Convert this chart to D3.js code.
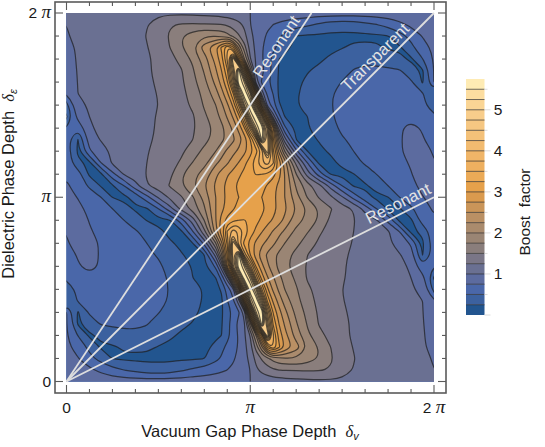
<!DOCTYPE html>
<html>
<head>
<meta charset="utf-8">
<script src="https://cdn.jsdelivr.net/npm/d3@7"></script>
<style>
  body { margin: 0; background: #fff; }
  text { font-family: "Liberation Sans", Arial, sans-serif; fill: #1a1a1a; }
</style>
</head>
<body>
<script>
// column positions of the read grid, in units of pi/32 (denser around the ridge)
const phaseColumns = [0, 2, 4, 6, 8, 10, 12, 14, 16, 18, 20, 22, 24, 26, 27, 28, 29, 30, 31, 32,
                      33, 34, 35, 36, 37, 38, 40, 42, 44, 46, 48, 50, 52, 54, 56, 58, 60, 62, 64];

// boost factor, bottom row to the middle row, rows are pi/16 apart.
// the upper half is the lower half turned by 180 degrees around (pi, pi)
const boostRows = [
  [.96,.95,.93,.92,.9,.89,.88,.88,.88,.88,.88,.89,.9,.91,.92,.93,.95,.96,.98,1.0,1.03,1.06,1.09,1.11,1.13,1.15,1.17,1.19,1.2,1.2,1.2,1.19,1.17,1.15,1.13,1.1,1.07,1.04,1.02],
  [.88,.85,.8,.69,.58,.5,.43,.36,.35,.38,.46,.55,.6,.67,.71,.75,.8,.87,.94,1.0,1.2,1.32,1.4,1.46,1.5,1.51,1.52,1.53,1.52,1.48,1.36,1.24,1.19,1.16,1.13,1.1,1.07,1.04,1.0],
  [.8,.76,.58,.4,.24,.21,.2,.2,.2,.2,.21,.22,.24,.43,.53,.62,.71,.82,.92,1.08,1.32,1.53,1.7,1.85,1.93,1.97,2.0,1.88,1.74,1.53,1.38,1.26,1.19,1.16,1.13,1.1,1.07,1.03,.99],
  [.79,.68,.425,.22,.22,.28,.3,.29,.24,.21,.2,.2,.2,.3,.43,.56,.67,.77,.93,1.15,1.6,2.2,3.1,3.5,3.05,2.75,2.37,2.0,1.73,1.5,1.35,1.24,1.18,1.15,1.12,1.09,1.06,1.02,.95],
  [.78,.49,.21,.3,.38,.43,.45,.44,.36,.28,.22,.2,.2,.21,.25,.42,.6,.78,.97,1.27,2.0,3.2,5.0,3.55,2.9,2.6,2.12,1.8,1.58,1.42,1.3,1.22,1.17,1.14,1.11,1.08,1.05,1.03,.88],
  [.76,.21,.38,.52,.54,.55,.54,.51,.42,.34,.29,.24,.21,.2,.23,.42,.65,.82,1.0,1.9,3.85,5.7,4.4,3.2,2.75,2.47,2.03,1.72,1.48,1.38,1.3,1.22,1.17,1.14,1.11,1.07,1.03,1.02,.84],
  [.76,.22,.53,.6,.63,.65,.65,.6,.51,.42,.34,.28,.22,.2,.22,.37,.55,.72,1.1,3.3,5.2,5.8,4.0,2.98,2.6,2.33,1.93,1.67,1.46,1.36,1.28,1.21,1.16,1.13,1.1,1.06,1.03,1.01,.8],
  [.3,.52,.58,.66,.7,.72,.71,.67,.6,.47,.38,.31,.23,.2,.21,.49,.7,1.15,3.0,5.0,5.8,4.6,3.2,2.7,2.4,2.15,1.83,1.6,1.43,1.33,1.26,1.2,1.15,1.12,1.08,1.06,1.03,1.0,.76],
  [.35,.56,.68,.72,.73,.74,.73,.7,.62,.48,.39,.31,.24,.2,.27,.6,.9,2.25,4.2,5.8,5.0,3.55,2.8,2.45,2.2,2.0,1.78,1.55,1.41,1.33,1.25,1.19,1.14,1.1,1.06,1.05,1.03,.93,.42],
  [.55,.7,.72,.72,.73,.72,.71,.67,.58,.47,.33,.25,.21,.25,.58,1.13,2.65,4.4,5.8,5.2,3.7,2.9,2.53,2.28,2.07,1.92,1.7,1.47,1.39,1.33,1.27,1.2,1.15,1.11,1.08,1.06,1.0,.85,.22],
  [.66,.74,.78,.74,.72,.7,.66,.6,.54,.43,.32,.24,.2,.55,1.18,2.75,4.45,5.8,5.2,3.9,3.0,2.58,2.3,2.1,1.93,1.82,1.62,1.47,1.39,1.34,1.27,1.21,1.16,1.12,1.09,1.05,.97,.55,.5],
  [.7,.76,.85,.72,.68,.64,.59,.54,.48,.34,.26,.21,.25,1.1,1.95,3.08,4.65,5.6,3.62,3.0,2.6,2.37,2.2,2.05,1.95,1.85,1.67,1.5,1.42,1.35,1.28,1.22,1.17,1.12,1.08,1.02,.86,.24,.6],
  [.72,.87,.86,.72,.68,.64,.58,.5,.37,.27,.22,.25,.82,1.73,2.43,3.3,4.7,3.55,3.16,2.88,2.69,2.55,2.43,2.3,2.14,2.0,1.82,1.62,1.46,1.38,1.3,1.24,1.18,1.13,1.05,.88,.72,.2,.64],
  [.76,.85,.77,.7,.66,.6,.53,.42,.29,.21,.2,.73,1.43,2.4,2.9,3.53,3.9,3.72,3.42,3.15,2.93,2.76,2.62,2.47,2.33,2.2,1.93,1.76,1.53,1.42,1.34,1.25,1.18,1.12,1.04,.75,.2,.3,.68],
  [.84,.85,.74,.66,.58,.5,.36,.24,.2,.23,.62,1.12,1.75,2.5,2.85,3.08,3.2,3.25,3.26,3.22,3.08,2.95,2.83,2.72,2.6,2.45,2.1,1.93,1.72,1.45,1.35,1.27,1.1,1.02,.68,.2,.2,.62,.72],
  [.82,.8,.7,.62,.5,.33,.22,.22,.5,.9,1.33,1.6,1.97,2.5,2.68,2.85,2.97,3.08,3.12,3.14,3.12,3.07,2.95,2.85,2.68,2.55,2.25,1.97,1.73,1.52,1.36,1.23,.92,.5,.22,.23,.45,.66,.78],
  [.82,.74,.66,.5,.24,.2,.32,.67,1.03,1.3,1.47,1.72,2.08,2.5,2.65,2.8,2.9,3.0,3.03,3.05,3.03,3.0,2.9,2.8,2.65,2.5,2.08,1.72,1.47,1.3,1.03,.67,.32,.2,.24,.5,.66,.74,.82]
];

// contour levels and the band colour above each one (first colour is below .25)
const levels = d3.range(1, 23).map(d => d * 0.25);
const bandColors = ["#22558f", "#3c619f", "#4a67a9", "#5c6b9f", "#6a7092", "#7a7687", "#8a7e7c", "#9a8574",
                    "#aa8b6d", "#ba9064", "#ca9559", "#da9a4e", "#e6a14b", "#ebaa57", "#eeb060", "#f0b568",
                    "#f2bb70", "#f4c179", "#f6c782", "#f8cd8b", "#fad595", "#fcdda0", "#feebb4"];

const resonanceSlopes = [1.5, 1, 0.5];
const lineLabels = ["Resonant", "Transparent", "Resonant"];
const labelPhases = [1.19, 1.72, 1.83];
const phaseTicks = [0, 1, 2];
const barTicks = [1, 2, 3, 4, 5];

const plot = {left: 66.5, right: 434, top: 13, bottom: 381.5};
const frame = {left: 55, right: 446, top: 2, bottom: 393};
const bar = {left: 466, right: 484.5, top: 79, bottom: 315, max: 5.75};

window.onload = function() {
    main();
};


/**
 * Main function, draws the map, the frame and the colour bar.
 */
function main() {
    let svg = d3.select("body")
                .append("svg")
                .attr("width", 545)
                .attr("height", 447);

    let x = d3.scaleLinear().domain([0, 2 * Math.PI]).range([plot.left, plot.right]);
    let y = d3.scaleLinear().domain([0, 2 * Math.PI]).range([plot.bottom, plot.top]);

    makeMap(svg, x, y);
    makeLines(svg, x, y);
    makeFrame(svg, x, y);
    makeBar(svg);
}


/**
 * Fills the whole grid from the read rows and draws the contour bands.
 */
function makeMap(svg, x, y) {
    let nx = phaseColumns.length;
    let middle = boostRows.length - 1;
    let ny = middle * 2 + 1;

    let grid = [];
    for (let j = 0; j < ny; j++) {
        for (let i = 0; i < nx; i++) {
            grid.push(j <= middle ? boostRows[j][i] : boostRows[ny - 1 - j][nx - 1 - i]);
        }
    }

    // grid index to pixel, the columns are not evenly spaced
    let colX = d3.scaleLinear()
                 .domain(d3.range(nx))
                 .range(phaseColumns.map(k => x(k * Math.PI / 32)));
    let rowY = d3.scaleLinear()
                 .domain([0, ny - 1])
                 .range([y(0), y(2 * Math.PI)]);

    let ringLine = d3.line().curve(d3.curveBasisClosed);
    let toPath = function(shape) {
        let parts = [];
        shape.coordinates.forEach(function(polygon) {
            polygon.forEach(function(ring) {
                let points = ring.slice(0, -1).map(p => [colX(p[0] - 0.5), rowY(p[1] - 0.5)]);
                parts.push(ringLine(points) + "Z");
            });
        });
        return parts.join("");
    };

    // d3 splits saddles around high corners, so the valley levels are traced on the
    // values and the ridge levels on the negated values, that keeps both unbroken
    let ridgeFrom = 1.5;
    let contourer = d3.contours().size([nx, ny]).smooth(true);
    let shapes = levels.map(function(level) {
        if (level < ridgeFrom) {
            return {path: toPath(contourer.thresholds([level])(grid)[0]), inverse: false};
        }
        let negated = grid.map(v => -v);
        return {path: toPath(contourer.thresholds([-level])(negated)[0]), inverse: true};
    });

    svg.append("clipPath")
       .attr("id", "plot-clip")
       .append("rect")
       .attr("x", plot.left)
       .attr("y", plot.top)
       .attr("width", plot.right - plot.left)
       .attr("height", plot.bottom - plot.top);

    let map = svg.append("g").attr("clip-path", "url(#plot-clip)");

    map.append("rect")
       .attr("x", plot.left)
       .attr("y", plot.top)
       .attr("width", plot.right - plot.left)
       .attr("height", plot.bottom - plot.top)
       .style("fill", bandColors[0]);

    // a ridge level holds the part below it, so it is cut out of a big rectangle
    let outside = "M-100,-100H700V600H-100Z";
    map.selectAll("path.band")
       .data(shapes)
       .enter()
       .append("path")
       .attr("class", "band")
       .attr("d", d => (d.inverse ? outside : "") + d.path)
       .attr("fill-rule", "evenodd")
       .style("fill", (d, i) => bandColors[i + 1]);

    map.selectAll("path.level")
       .data(shapes)
       .enter()
       .append("path")
       .attr("class", "level")
       .attr("d", d => d.path)
       .style("fill", "none")
       .style("stroke", "#1c1c1c")
       .style("stroke-opacity", 0.7)
       .style("stroke-width", 1.2);
}


/**
 * Draws the straight resonance lines with their labels.
 */
function makeLines(svg, x, y) {
    let full = 2 * Math.PI;

    svg.selectAll("line.resonance")
       .data(resonanceSlopes)
       .enter()
       .append("line")
       .attr("class", "resonance")
       .attr("x1", x(0))
       .attr("y1", y(0))
       .attr("x2", d => x(Math.min(full, full / d)))
       .attr("y2", d => y(Math.min(full, full * d)))
       .style("stroke", "#dedede")
       .style("stroke-width", 1.8);

    // label sits along its line, a little above it
    svg.selectAll("text.resonance")
       .data(resonanceSlopes)
       .enter()
       .append("text")
       .attr("class", "resonance")
       .attr("transform", function(d, i) {
            let angle = Math.atan(d);
            let px = x(labelPhases[i] * Math.PI) - 5 * Math.sin(angle);
            let py = y(labelPhases[i] * Math.PI * d) - 5 * Math.cos(angle);
            return "translate(" + px + "," + py + ") rotate(" + (-angle * 180 / Math.PI) + ")";
        })
       .attr("text-anchor", "middle")
       .style("font-size", "16.5px")
       .style("fill", "#e4e4e4")
       .text((d, i) => lineLabels[i]);
}


/**
 * Draws the frame with its ticks and the axis titles.
 */
function makeFrame(svg, x, y) {
    let frameColor = "#5a5a5a";

    svg.append("rect")
       .attr("x", frame.left)
       .attr("y", frame.top)
       .attr("width", frame.right - frame.left)
       .attr("height", frame.bottom - frame.top)
       .style("fill", "none")
       .style("stroke", frameColor)
       .style("stroke-width", 1.6);

    // ticks every pi/8 on all four sides, longer at 0, pi and 2 pi
    let ticks = d3.range(0, 17).map(d => d * Math.PI / 8);
    let length = (d, i) => i % 8 === 0 ? 8 : 4;
    let group = svg.append("g").style("stroke", frameColor).style("stroke-width", 1.1);

    ticks.forEach(function(d, i) {
        group.append("line").attr("x1", x(d)).attr("x2", x(d))
             .attr("y1", frame.bottom).attr("y2", frame.bottom - length(d, i));
        group.append("line").attr("x1", x(d)).attr("x2", x(d))
             .attr("y1", frame.top).attr("y2", frame.top + length(d, i));
        group.append("line").attr("y1", y(d)).attr("y2", y(d))
             .attr("x1", frame.left).attr("x2", frame.left + length(d, i));
        group.append("line").attr("y1", y(d)).attr("y2", y(d))
             .attr("x1", frame.right).attr("x2", frame.right - length(d, i));
    });

    // tick labels 0, pi, 2 pi
    let writeTick = function(label, d) {
        if (d > 1) {
            label.append("tspan").text("2 ");
        }
        if (d > 0) {
            label.append("tspan")
                 .style("font-style", "italic")
                 .style("font-family", "Liberation Serif")
                 .style("font-size", "19px")
                 .text("π");
        } else {
            label.text("0");
        }
    };

    phaseTicks.forEach(function(d) {
        let label = svg.append("text")
                       .attr("x", x(d * Math.PI))
                       .attr("y", 413)
                       .attr("text-anchor", "middle")
                       .style("font-size", "15.5px");
        writeTick(label, d);

        let side = svg.append("text")
                      .attr("x", 51)
                      .attr("y", y(d * Math.PI) + 5)
                      .attr("text-anchor", "end")
                      .style("font-size", "15.5px");
        writeTick(side, d);
    });

    let xTitle = svg.append("text")
                    .attr("x", 250)
                    .attr("y", 437)
                    .attr("text-anchor", "middle")
                    .style("font-size", "16.5px");
    xTitle.append("tspan").text("Vacuum Gap Phase Depth\u00a0\u00a0");
    xTitle.append("tspan").style("font-style", "italic").style("font-family", "Liberation Serif").text("δ");
    xTitle.append("tspan").attr("dy", 3).style("font-size", "11px").style("font-style", "italic").text("v");

    let yTitle = svg.append("text")
                    .attr("transform", "translate(14,184) rotate(-90)")
                    .attr("text-anchor", "middle")
                    .style("font-size", "16.5px");
    yTitle.append("tspan").text("Dielectric Phase Depth\u00a0\u00a0");
    yTitle.append("tspan").style("font-style", "italic").style("font-family", "Liberation Serif").text("δ");
    yTitle.append("tspan").attr("dy", 3).style("font-size", "11px").style("font-style", "italic").text("ε");
}


/**
 * Draws the colour bar next to the map.
 */
function makeBar(svg) {
    let scale = d3.scaleLinear().domain([0, bar.max]).range([bar.bottom, bar.top]);
    let edges = [0].concat(levels);

    svg.selectAll("rect.step")
       .data(bandColors)
       .enter()
       .append("rect")
       .attr("class", "step")
       .attr("x", bar.left)
       .attr("width", bar.right - bar.left)
       .attr("y", (d, i) => scale(i === bandColors.length - 1 ? bar.max : edges[i + 1]))
       .attr("height", (d, i) => scale(edges[i]) - scale(i === bandColors.length - 1 ? bar.max : edges[i + 1]))
       .style("fill", d => d);

    svg.selectAll("line.step")
       .data(levels)
       .enter()
       .append("line")
       .attr("class", "step")
       .attr("x1", bar.left)
       .attr("x2", bar.right)
       .attr("y1", d => scale(d))
       .attr("y2", d => scale(d))
       .style("stroke", "#222")
       .style("stroke-opacity", 0.65)
       .style("stroke-width", 1);

    // faint ticks to the right of the bar
    svg.selectAll("line.tick")
       .data(d3.range(0, 12).map(d => d * 0.5))
       .enter()
       .append("line")
       .attr("class", "tick")
       .attr("x1", bar.right)
       .attr("x2", d => bar.right + (d % 1 === 0 ? 6 : 3))
       .attr("y1", d => scale(d))
       .attr("y2", d => scale(d))
       .style("stroke", "#dcdcdc");

    svg.selectAll("text.tick")
       .data(barTicks)
       .enter()
       .append("text")
       .attr("class", "tick")
       .attr("x", 498)
       .attr("y", d => scale(d) + 5.5)
       .attr("text-anchor", "middle")
       .style("font-size", "15.5px")
       .text(d => d);

    svg.append("text")
       .attr("transform", "translate(530,212) rotate(-90)")
       .attr("text-anchor", "middle")
       .style("font-size", "15.5px")
       .text("Boost\u00a0\u00a0factor");
}
</script>
</body>
</html>
